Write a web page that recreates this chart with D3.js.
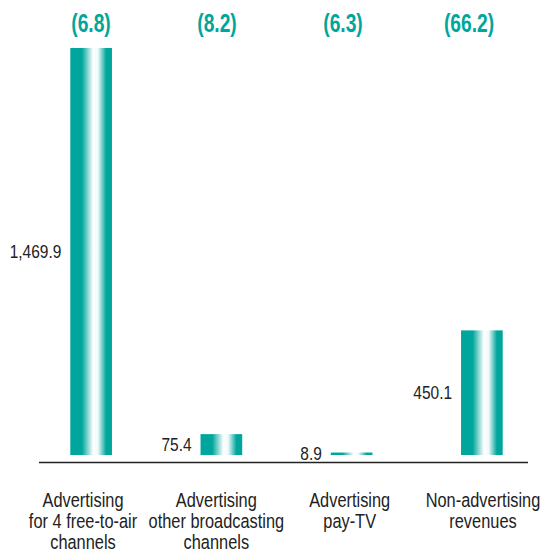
<!DOCTYPE html>
<html>
<head>
<meta charset="utf-8">
<script src="https://cdn.jsdelivr.net/npm/d3@7"></script>
<style>
  body { margin: 0; background: #fff; }
  text { font-family: "Liberation Sans", Arial, sans-serif; }
</style>
</head>
<body>
<svg id="chart"></svg>
<script>
var categories = [
  ["Advertising", "for 4 free-to-air", "channels"],
  ["Advertising", "other broadcasting", "channels"],
  ["Advertising", "pay-TV"],
  ["Non-advertising", "revenues"]
];
var values = [1469.9, 75.4, 8.9, 450.1];
var valueLabels = ["1,469.9", "75.4", "8.9", "450.1"];
var changes = ["(6.8)", "(8.2)", "(6.3)", "(66.2)"];

var screen = { width: 543, height: 551 };
var teal = "#00a69c";

var svg = d3.select('#chart')
  .attr('width', screen.width)
  .attr('height', screen.height);

// gradient for bars
var grad = svg.append('defs').append('linearGradient')
  .attr('id', 'barGrad')
  .attr('x1', '0%').attr('x2', '100%')
  .attr('y1', '0%').attr('y2', '0%');
var stops = [[0, teal], [0.28, teal], [0.55, '#ffffff'], [0.66, '#f2fafa'], [0.86, teal], [1, teal]];
grad.selectAll('stop').data(stops).enter().append('stop')
  .attr('offset', function(d){ return d[0]; })
  .attr('stop-color', function(d){ return d[1]; });

var xScale = d3.scaleBand()
  .domain(d3.range(values.length))
  .range([26, 547])
  .paddingInner(0.68)
  .paddingOuter(0.34);

// the top labels and the category labels sit on their own grids
var headScale = d3.scalePoint()
  .domain(d3.range(changes.length))
  .range([91, 469]);
var catScale = d3.scalePoint()
  .domain(d3.range(categories.length))
  .range([83, 483]);

var yScale = d3.scaleLinear()
  .domain([0, 1469.9])
  .range([455, 48]);

svg.selectAll('rect.bar')
  .data(values)
  .enter()
  .append('rect')
  .attr('class', 'bar')
  .attr('x', function(d, i){ return xScale(i); })
  .attr('y', function(d){ return yScale(d); })
  .attr('width', xScale.bandwidth())
  .attr('height', function(d){ return yScale(0) - yScale(d); })
  .attr('fill', 'url(#barGrad)');

// baseline
svg.append('line')
  .attr('x1', 39).attr('x2', 528)
  .attr('y1', 462.5).attr('y2', 462.5)
  .attr('stroke', '#222').attr('stroke-width', 1.3);

// value labels to the left of bars (condensed by scaling)
svg.selectAll('text.val')
  .data(values)
  .enter()
  .append('text')
  .attr('class', 'val')
  .attr('transform', function(d, i){
    return 'translate(' + (xScale(i) - 9) + ',' + ((yScale(d) + yScale(0)) / 2) + ') scale(0.86,1)';
  })
  .attr('dy', '0.36em')
  .attr('text-anchor', 'end')
  .attr('font-size', '18px')
  .attr('fill', '#222')
  .text(function(d, i){ return valueLabels[i]; });

// change labels on top
svg.selectAll('text.chg')
  .data(changes)
  .enter()
  .append('text')
  .attr('class', 'chg')
  .attr('transform', function(d, i){ return 'translate(' + headScale(i) + ',32) scale(0.74,1)'; })
  .attr('text-anchor', 'middle')
  .attr('font-size', '26px')
  .attr('font-weight', 'bold')
  .attr('fill', teal)
  .text(function(d){ return d; });

// category labels
categories.forEach(function(lines, i){
  var t = svg.append('text')
    .attr('transform', 'translate(' + catScale(i) + ',507) scale(0.84,1)')
    .attr('text-anchor', 'middle')
    .attr('font-size', '19.5px')
    .attr('fill', '#222');
  lines.forEach(function(l, j){
    t.append('tspan')
      .attr('x', 0)
      .attr('dy', j == 0 ? 0 : 21)
      .text(l);
  });
});
</script>
</body>
</html>
